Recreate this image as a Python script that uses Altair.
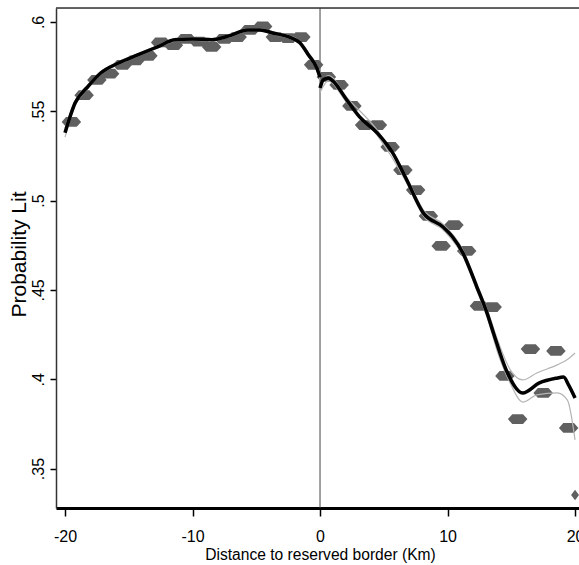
import altair as alt
import pandas as pd

# Binned scatter (bin centres, km) and mean probability
left_bins = [-19.5, -18.5, -17.5, -16.5, -15.5, -14.5, -13.5, -12.5, -11.5, -10.5,
             -9.5, -8.5, -7.5, -6.5, -5.5, -4.5, -3.5, -2.5, -1.5, -0.5]
left_means = [0.544, 0.559, 0.5675, 0.571, 0.576, 0.5785, 0.581, 0.5885, 0.587, 0.5905,
              0.589, 0.586, 0.5905, 0.5915, 0.5955, 0.5975, 0.5915, 0.591, 0.5915, 0.576]
right_bins = [0.5, 1.5, 2.5, 3.5, 4.5, 5.5, 6.5, 7.5, 8.5, 9.5,
              10.5, 11.5, 12.5, 13.5, 14.5, 15.5, 16.5, 17.5, 18.5, 19.5]
right_means = [0.5692, 0.5647, 0.553, 0.5423, 0.5423, 0.530, 0.5171, 0.5059, 0.4914, 0.4746,
               0.4863, 0.4718, 0.441, 0.4404, 0.4018, 0.3777, 0.4169, 0.3923, 0.4158, 0.3727]
edge_bin = [20.0]
edge_mean = [0.3352]

# Local fit, left of border
fit_left_x = [-20, -19.2, -18.2, -17.2, -15.8, -14.3, -12.7, -11.4, -10, -8.5,
              -7, -5.7, -4.7, -3.7, -2.4, -1.6, -0.9, -0.25, 0]
fit_left_y = [0.538, 0.5548, 0.5638, 0.5714, 0.577, 0.5815, 0.5862, 0.590, 0.5905, 0.590,
              0.5925, 0.5955, 0.5955, 0.5938, 0.5915, 0.5885, 0.5815, 0.5742, 0.569]
ci_left_hi = [0.5405, 0.5562, 0.5648, 0.5722, 0.5777, 0.5822, 0.5869, 0.5907, 0.5912, 0.5907,
              0.5932, 0.5962, 0.5962, 0.5945, 0.5923, 0.5894, 0.5826, 0.5755, 0.5705]
ci_left_lo = [0.5355, 0.5534, 0.5628, 0.5706, 0.5763, 0.5808, 0.5855, 0.5893, 0.5898, 0.5893,
              0.5918, 0.5948, 0.5948, 0.5931, 0.5907, 0.5876, 0.5804, 0.5729, 0.5675]

# Local fit, right of border
fit_right_x = [0, 0.25, 0.65, 1.0, 2.1, 3.1, 4.5, 5.7, 6.8, 8.1, 9.65, 10.4, 11.2,
               12.3, 13.1, 13.6, 14.6, 15.9, 17.2, 18.5, 19.1, 19.5, 20]
fit_right_y = [0.563, 0.5675, 0.5686, 0.567, 0.5563, 0.5468, 0.5378, 0.5267, 0.5115, 0.4931,
               0.4852, 0.4796, 0.4707, 0.4516, 0.437, 0.4259, 0.4052, 0.3923, 0.3979, 0.4005,
               0.4012, 0.3967, 0.3895]
ci_right_x = [0, 0.65, 2.1, 4.5, 6.8, 8.1, 9.65, 11.2, 12.3, 13.1, 14.0, 14.9, 15.9,
              17.0, 18.6, 19.4, 20]
ci_right_hi = [0.5655, 0.570, 0.5578, 0.5393, 0.5132, 0.4948, 0.4868, 0.4725, 0.4535, 0.4392,
               0.4205, 0.4055, 0.3996, 0.4035, 0.408, 0.411, 0.4147]
ci_right_lo = [0.5605, 0.567, 0.5548, 0.5363, 0.5098, 0.4914, 0.4836, 0.469, 0.4497, 0.4348,
               0.4135, 0.398, 0.3872, 0.3912, 0.3923, 0.3883, 0.366]

border = [0]
x_ticks = [-20, -10, 0, 10, 20]
y_ticks = [0.35, 0.4, 0.45, 0.5, 0.55, 0.6]

pts = pd.DataFrame({"x": left_bins + right_bins, "y": left_means + right_means})
edge = pd.DataFrame({"x": edge_bin, "y": edge_mean})
fit = pd.DataFrame({
    "x": fit_left_x + fit_right_x,
    "y": fit_left_y + fit_right_y,
    "side": ["L"] * len(fit_left_x) + ["R"] * len(fit_right_x),
})
ci = pd.DataFrame({
    "x": fit_left_x * 2 + ci_right_x * 2,
    "y": ci_left_hi + ci_left_lo + ci_right_hi + ci_right_lo,
    "band": (["Lhi"] * len(fit_left_x) + ["Llo"] * len(fit_left_x)
             + ["Rhi"] * len(ci_right_x) + ["Rlo"] * len(ci_right_x)),
})
zero = pd.DataFrame({"x": border})

xscale = alt.Scale(domain=[-20.706, 20.31], nice=False, zero=False)
yscale = alt.Scale(domain=[0.3279, 0.6078], nice=False, zero=False)

reg = "Liberation Sans, Arial, sans-serif"

xaxis = alt.Axis(
    values=x_ticks, grid=False, title="Distance to reserved border (Km)",
    labelExpr="datum.value < 0 ? '-' + abs(datum.value) : '' + datum.value",
    domainColor="black", domainWidth=3, tickColor="black", tickWidth=1.5, tickSize=8,
    labelFont=reg, labelFontSize=16, labelColor="black", labelBaseline="alphabetic",
    labelPadding=25, labelFlush=False,
    titleFont=reg, titleFontSize=15.6, titleFontWeight="normal", titleColor="black",
    titleX=264, titleY=51, titleBaseline="alphabetic", titleAlign="center",
)
yaxis = alt.Axis(
    values=y_ticks, grid=False, title="Probability Lit",
    labelExpr="replace(format(datum.value, '.2~f'), '0.', '.')",
    domainColor="#333333", domainWidth=1.5, tickColor="black", tickWidth=1.5, tickSize=6,
    labelFont=reg, labelFontSize=16, labelColor="black", labelAngle=270,
    labelAlign="center", labelBaseline="bottom", labelPadding=4,
    titleFont=reg, titleFontSize=21, titleFontWeight="normal", titleColor="black",
    titleAngle=270, titleX=-31, titleY=246, titleBaseline="alphabetic", titleAlign="center",
)

hexagon = "M-1,0L-0.55,-0.5L0.55,-0.5L1,0L0.55,0.5L-0.55,0.5Z"
diamond = "M-1,0L0,-1.3L1,0L0,1.3Z"

frame = alt.Chart(zero).mark_rule(color="#333333", strokeWidth=1.5).encode(
    x=alt.value(0), x2=alt.value(523), y=alt.value(0)
)
zline = alt.Chart(zero).mark_rule(color="#444444", strokeWidth=1).encode(
    x=alt.X("x:Q", scale=xscale, axis=xaxis)
)
scatter = alt.Chart(pts).mark_point(
    shape=hexagon, size=380, filled=True, color="#606060", opacity=1, strokeWidth=0
).encode(
    x=alt.X("x:Q", scale=xscale, axis=xaxis),
    y=alt.Y("y:Q", scale=yscale, axis=yaxis),
)
edge_pt = alt.Chart(edge).mark_point(
    shape=diamond, size=64, filled=True, color="#606060", opacity=1, strokeWidth=0
).encode(x=alt.X("x:Q", scale=xscale), y=alt.Y("y:Q", scale=yscale))
ci_lines = alt.Chart(ci).mark_line(color="#b4b4b4", strokeWidth=1.2, interpolate="monotone").encode(
    x=alt.X("x:Q", scale=xscale), y=alt.Y("y:Q", scale=yscale), detail="band:N"
)
fit_line = alt.Chart(fit).mark_line(color="black", strokeWidth=3.5, interpolate="monotone").encode(
    x=alt.X("x:Q", scale=xscale), y=alt.Y("y:Q", scale=yscale), detail="side:N"
)

chart = alt.layer(zline, scatter, edge_pt, ci_lines, fit_line, frame).properties(
    width=523, height=500,
    autosize=alt.AutoSizeParams(type="none"),
    padding={"left": 56, "top": 8, "right": 0, "bottom": 57},
).configure_view(stroke=None).configure(background="white")

chart.save("out.html", embed_options={"renderer": "svg", "actions": False})
